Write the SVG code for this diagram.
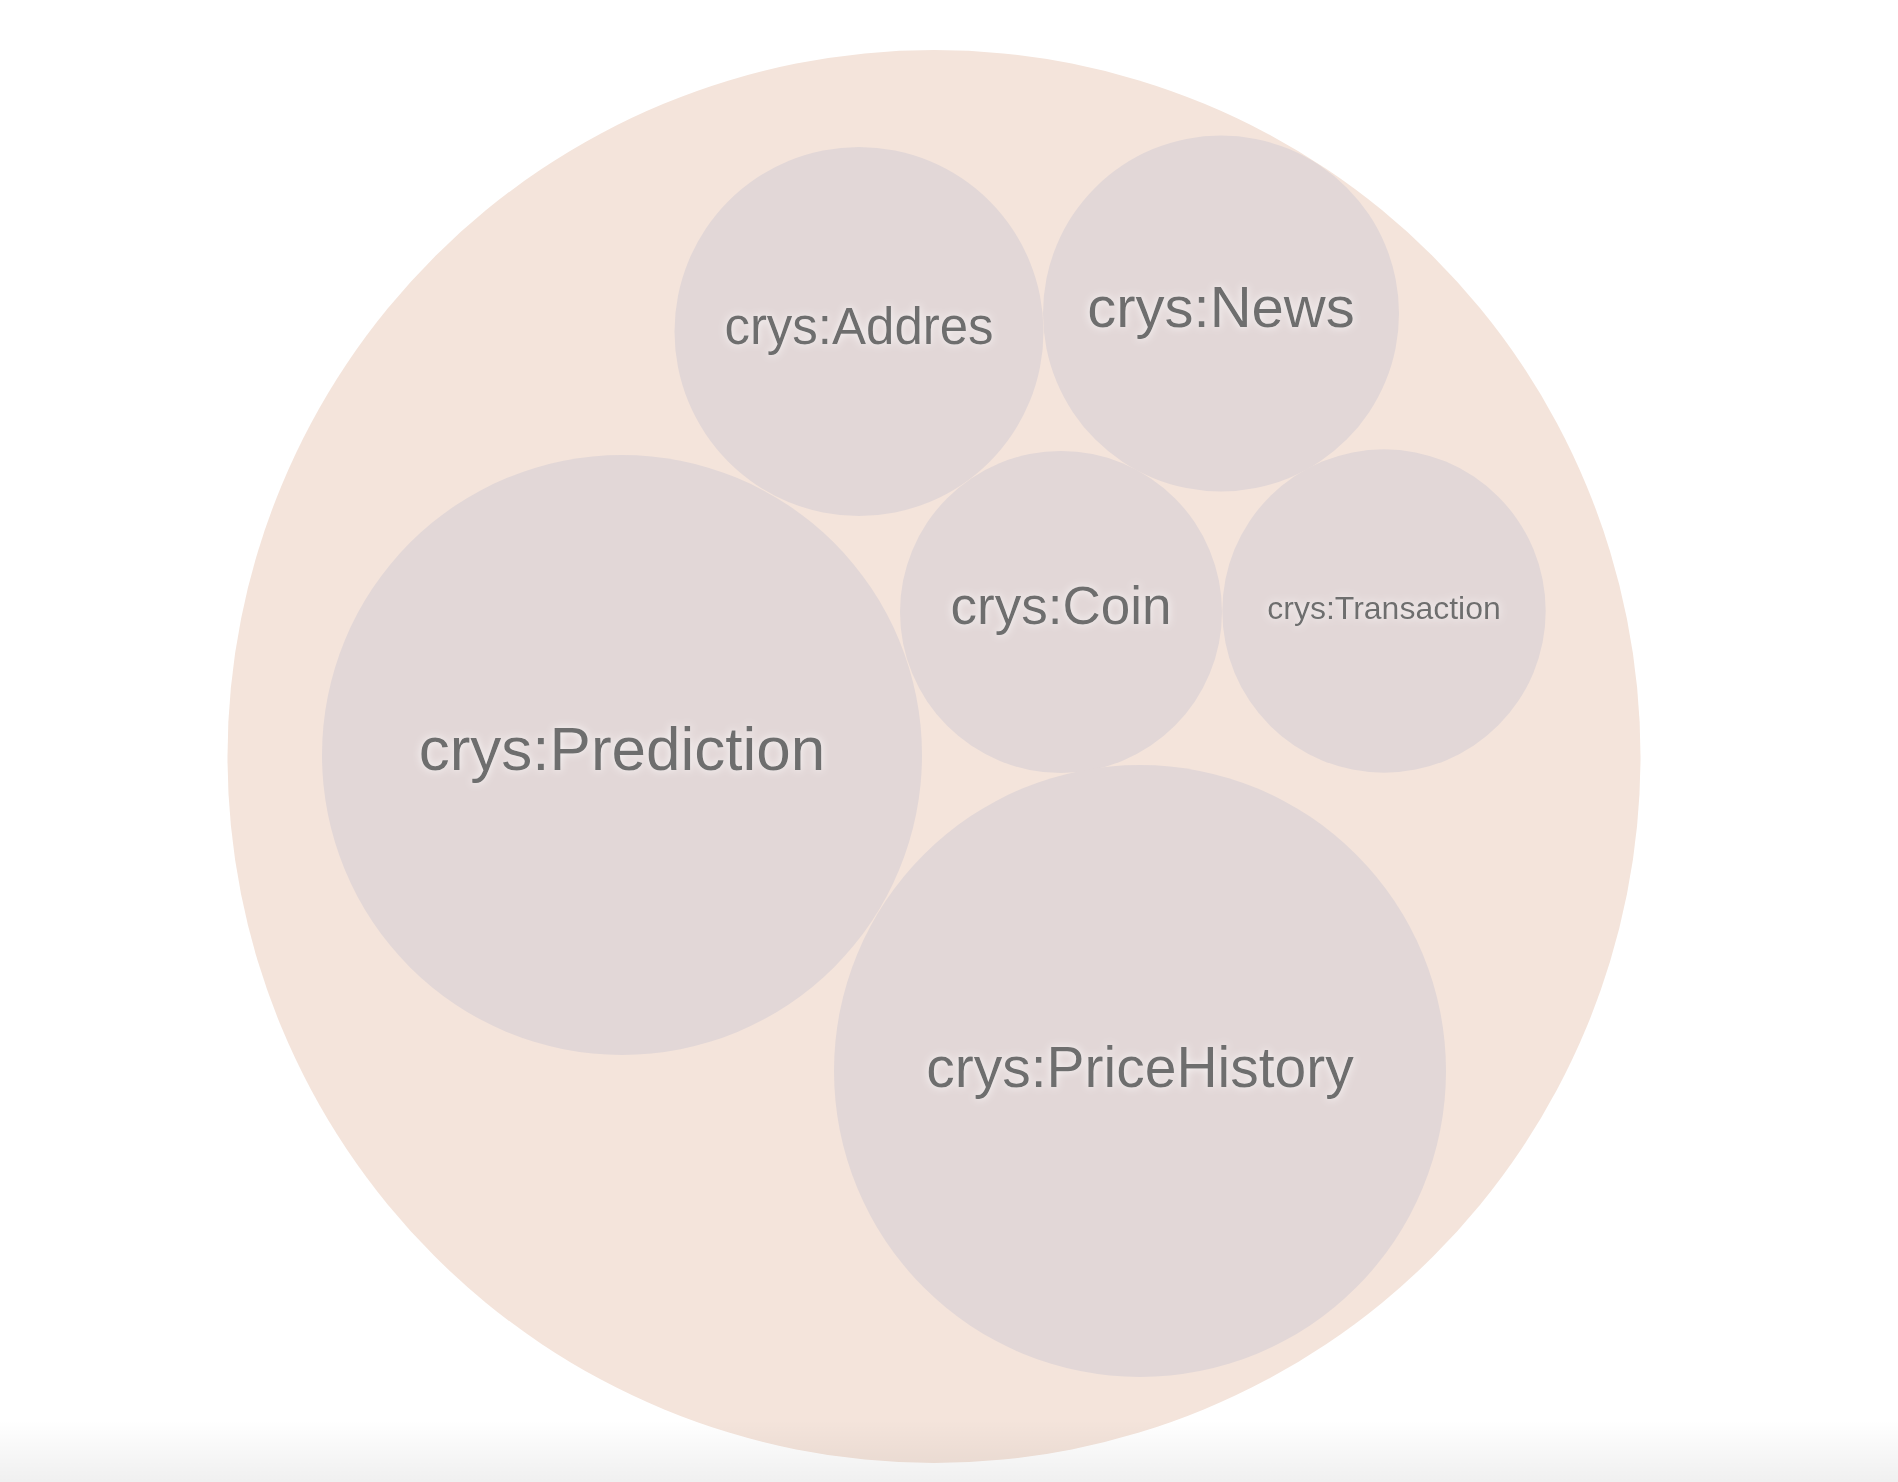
<svg xmlns="http://www.w3.org/2000/svg" width="1898" height="1482" viewBox="0 0 1898 1482">
  <defs>
    <filter id="glow" x="-10%" y="-30%" width="120%" height="160%">
      <feGaussianBlur in="SourceAlpha" stdDeviation="4" result="b"/>
      <feFlood flood-color="#ffffff" flood-opacity="0.9"/>
      <feComposite in2="b" operator="in" result="g"/>
      <feMerge>
        <feMergeNode in="g"/>
        <feMergeNode in="SourceGraphic"/>
      </feMerge>
    </filter>
    <linearGradient id="shade" x1="0" y1="0" x2="0" y2="1">
      <stop offset="0" stop-color="#000" stop-opacity="0"/>
      <stop offset="1" stop-color="#000" stop-opacity="0.06"/>
    </linearGradient>
  </defs>
  <style>
    .outer { fill: #f4e4db; }
    .node { fill: #e2d7d7; }
    .label { font-family: "Liberation Sans", Arial, sans-serif; fill: #6e6e6e; text-anchor: middle; filter: url(#glow); }
  </style>
  <rect width="1898" height="1482" fill="#ffffff"/>
  <g id="root">
    <circle class="outer" cx="934" cy="756.5" r="706.5"/>
  </g>
  <g id="connectors"></g>
  <g id="node-addres">
    <circle class="node" cx="859" cy="331.5" r="184.5"/>
    <text class="label" x="859" y="344" font-size="51">crys:Addres</text>
  </g>
  <g id="node-news">
    <circle class="node" cx="1221" cy="313.5" r="178"/>
    <text class="label" x="1221" y="327" font-size="58">crys:News</text>
  </g>
  <g id="node-coin">
    <circle class="node" cx="1061" cy="612" r="161"/>
    <text class="label" x="1061" y="624" font-size="53">crys:Coin</text>
  </g>
  <g id="node-transaction">
    <circle class="node" cx="1384" cy="611" r="161.7"/>
    <text class="label" x="1384" y="619" font-size="32">crys:Transaction</text>
  </g>
  <g id="node-prediction">
    <circle class="node" cx="622" cy="755" r="300"/>
    <text class="label" x="622" y="770" font-size="62">crys:Prediction</text>
  </g>
  <g id="node-pricehistory">
    <circle class="node" cx="1140" cy="1071" r="306"/>
    <text class="label" x="1140" y="1087" font-size="57">crys:PriceHistory</text>
  </g>
  <rect x="0" y="1420" width="1898" height="62" fill="url(#shade)"/>
</svg>
